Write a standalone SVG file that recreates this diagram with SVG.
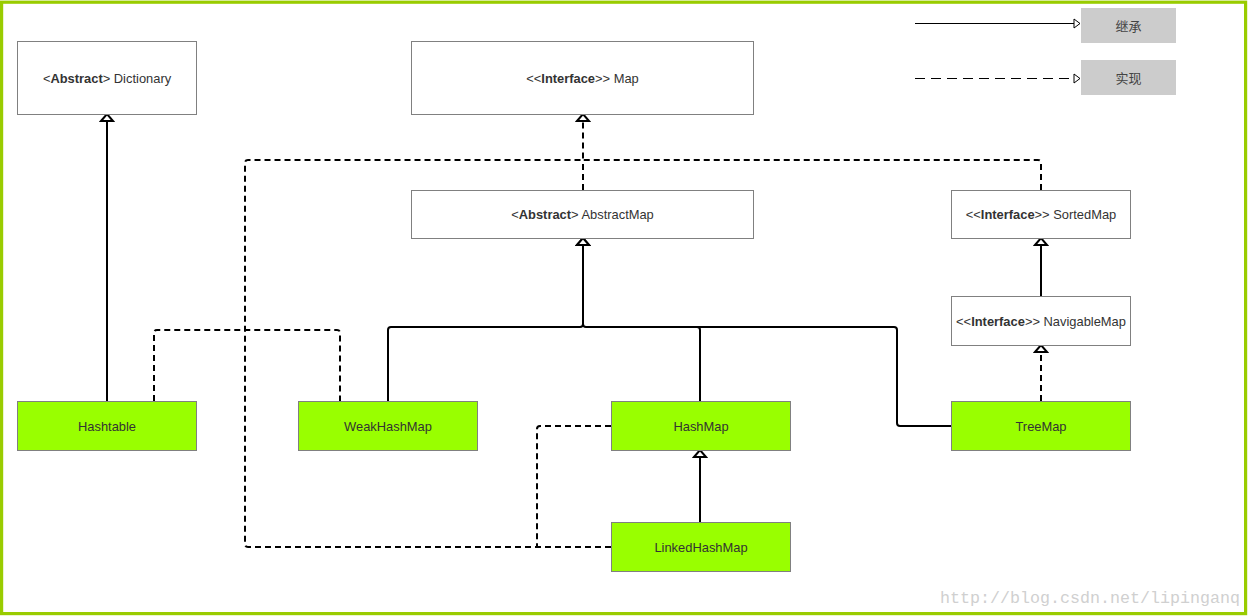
<svg xmlns="http://www.w3.org/2000/svg" width="1251" height="616" viewBox="0 0 1251 616">
<style>
.box{fill:#fff;stroke:#808080;stroke-width:1}
.cls{fill:#99ff00;stroke:#808080;stroke-width:1}
.t{font-family:"Liberation Sans",Arial,sans-serif;font-size:12.9px;fill:#333;text-anchor:middle}
.b{font-weight:bold}
.solid{fill:none;stroke:#000;stroke-width:2}
.dash{fill:none;stroke:#000;stroke-width:2;stroke-dasharray:6 4}
.leg{fill:#ccc}
.lt{font-family:"Liberation Sans","Noto Sans CJK SC",sans-serif;font-size:13px;fill:#444;text-anchor:middle}
</style>
<defs>
<marker id="tri" markerUnits="userSpaceOnUse" markerWidth="12" markerHeight="16" refX="9" refY="8" orient="auto">
<path d="M2,2 L9,8 L2,14 Z" fill="#fff" stroke="#000" stroke-width="2"/>
</marker>
<marker id="tris" markerUnits="userSpaceOnUse" markerWidth="10" markerHeight="12" refX="7" refY="6" orient="auto">
<path d="M1,1.5 L7,6 L1,10.5 Z" fill="#fff" stroke="#000" stroke-width="1"/>
</marker>
</defs>
<rect x="1.6" y="2.2" width="1244" height="611.4" fill="#fff" stroke="#99cc00" stroke-width="3.2"/>
<g id="legend">
<path d="M915,23.5 H1080" fill="none" stroke="#000" stroke-width="1" marker-end="url(#tris)"/>
<rect class="leg" x="1081" y="8" width="95" height="35"/>
<text class="lt" x="1128.5" y="30.5">继承</text>
<path d="M915,78.5 H1080" fill="none" stroke="#000" stroke-width="1" stroke-dasharray="10 6" marker-end="url(#tris)"/>
<rect class="leg" x="1081" y="60" width="95" height="35"/>
<text class="lt" x="1128.5" y="82.5">实现</text>
</g>
<g id="connectors">
<path class="solid" d="M107,401 V114" marker-end="url(#tri)"/>
<path class="dash" d="M154,401 V333 Q154,330 157,330 H337 Q340,330 340,333 V401"/>
<path class="dash" d="M611,547 H248 Q245,547 245,544 V163 Q245,160 248,160 H583 V114" marker-end="url(#tri)"/>
<path class="dash" d="M1041,190 V163 Q1041,160 1038,160 H583"/>
<path class="dash" d="M583,190 V160"/>
<path class="dash" d="M611,426 H540 Q537,426 537,429 V547"/>
<path class="solid" d="M388,401 V330 Q388,327 391,327 H580 Q583,327 583,324 V238" marker-end="url(#tri)"/>
<path class="solid" d="M700,401 V330 Q700,327 697,327 H586 Q583,327 583,324 V238" marker-end="url(#tri)"/>
<path class="solid" d="M951,426 H900 Q897,426 897,423 V330 Q897,327 894,327 H586"/>
<path class="solid" d="M700,522 V450" marker-end="url(#tri)"/>
<path class="solid" d="M1041,296 V238" marker-end="url(#tri)"/>
<path class="dash" d="M1041,401 V345" marker-end="url(#tri)"/>
</g>
<g id="Dictionary">
<rect class="box" x="17.5" y="41.5" width="179" height="73"/>
<text class="t" x="107" y="82.5">&lt;<tspan class="b">Abstract</tspan>&gt; Dictionary</text>
</g>
<g id="Map">
<rect class="box" x="411.5" y="41.5" width="342" height="73"/>
<text class="t" x="582.5" y="82.5">&lt;&lt;<tspan class="b">Interface</tspan>&gt;&gt; Map</text>
</g>
<g id="AbstractMap">
<rect class="box" x="411.5" y="190.5" width="342" height="48"/>
<text class="t" x="582.5" y="219">&lt;<tspan class="b">Abstract</tspan>&gt; AbstractMap</text>
</g>
<g id="SortedMap">
<rect class="box" x="951.5" y="190.5" width="179" height="48"/>
<text class="t" x="1041" y="219">&lt;&lt;<tspan class="b">Interface</tspan>&gt;&gt; SortedMap</text>
</g>
<g id="NavigableMap">
<rect class="box" x="951.5" y="296.5" width="179" height="49"/>
<text class="t" x="1041" y="326">&lt;&lt;<tspan class="b">Interface</tspan>&gt;&gt; NavigableMap</text>
</g>
<g id="Hashtable">
<rect class="cls" x="17.5" y="401.5" width="179" height="49"/>
<text class="t" x="107" y="431">Hashtable</text>
</g>
<g id="WeakHashMap">
<rect class="cls" x="298.5" y="401.5" width="179" height="49"/>
<text class="t" x="388" y="431">WeakHashMap</text>
</g>
<g id="HashMap">
<rect class="cls" x="611.5" y="401.5" width="179" height="49"/>
<text class="t" x="701" y="431">HashMap</text>
</g>
<g id="TreeMap">
<rect class="cls" x="951.5" y="401.5" width="179" height="49"/>
<text class="t" x="1041" y="431">TreeMap</text>
</g>
<g id="LinkedHashMap">
<rect class="cls" x="611.5" y="522.5" width="179" height="49"/>
<text class="t" x="701" y="552">LinkedHashMap</text>
</g>
<text x="940" y="603" font-family="Liberation Mono,monospace" font-size="16.5" fill="#d0d0d0" textLength="300" lengthAdjust="spacingAndGlyphs">http://blog.csdn.net/lipinganq</text>
</svg>
